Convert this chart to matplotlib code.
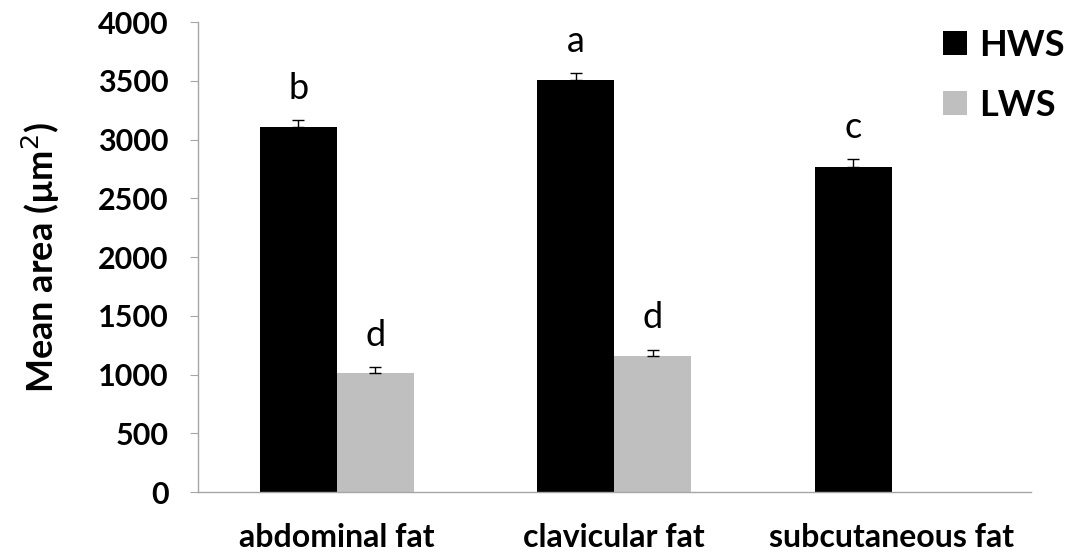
import matplotlib.pyplot as plt
import numpy as np

plt.rcParams['font.family'] = ['Lato', 'DejaVu Sans']

categories = ['abdominal fat', 'clavicular fat', 'subcutaneous fat']
hws_mean = [3105, 3505, 2770]
hws_err = [60, 60, 60]
hws_letters = ['b', 'a', 'c']
lws_mean = [1015, 1155, np.nan]
lws_err = [50, 57, np.nan]
lws_letters = ['d', 'd', '']

fig = plt.figure(figsize=(10.77, 5.6), dpi=100)
ax = fig.add_axes([0.1838, 0.1214, 0.7732, 0.8393])

x = np.arange(len(categories))
w = 0.277

ax.bar(x - w / 2, hws_mean, w, color='black', label='HWS')
ax.bar(x + w / 2, lws_mean, w, color='#bfbfbf', label='LWS')
ax.errorbar(x - w / 2, hws_mean, yerr=[np.zeros(3), hws_err], fmt='none',
            ecolor='black', elinewidth=1, capsize=4, capthick=1)
ax.errorbar(x + w / 2, lws_mean, yerr=[np.zeros(3), lws_err], fmt='none',
            ecolor='black', elinewidth=1, capsize=4, capthick=1)

# significance letters above the error bars
for i in range(len(categories)):
    ax.text(x[i] - w / 2, hws_mean[i] + hws_err[i] + 180, hws_letters[i],
            ha='center', va='baseline', fontsize=26)
    if lws_letters[i]:
        ax.text(x[i] + w / 2, lws_mean[i] + lws_err[i] + 180, lws_letters[i],
                ha='center', va='baseline', fontsize=26)

ax.set_xlim(-0.5, 2.5)
ax.set_ylim(0, 4000)
ax.set_yticks(np.arange(0, 4001, 500))
ax.set_xticks(x)
ax.set_xticklabels(categories, fontsize=23, fontweight='bold')
ax.tick_params(axis='x', length=0, pad=22)
ax.tick_params(axis='y', length=6, color='#a6a6a6', labelsize=22, pad=15)
for lab in ax.get_yticklabels():
    lab.set_fontweight('bold')

for side in ['top', 'right']:
    ax.spines[side].set_visible(False)
for side in ['left', 'bottom']:
    ax.spines[side].set_color('#a6a6a6')
    ax.spines[side].set_linewidth(1)

ax.set_ylabel('Mean area (µm$^2$)', fontsize=26, fontweight='bold', labelpad=26)

ax.legend(loc='upper right', bbox_to_anchor=(1.08, 1.055), frameon=False,
          prop={'weight': 'bold', 'size': 26},
          handlelength=0.65, handleheight=0.65, handletextpad=0.35,
          labelspacing=0.75)

fig.savefig('out.png', dpi=100)
